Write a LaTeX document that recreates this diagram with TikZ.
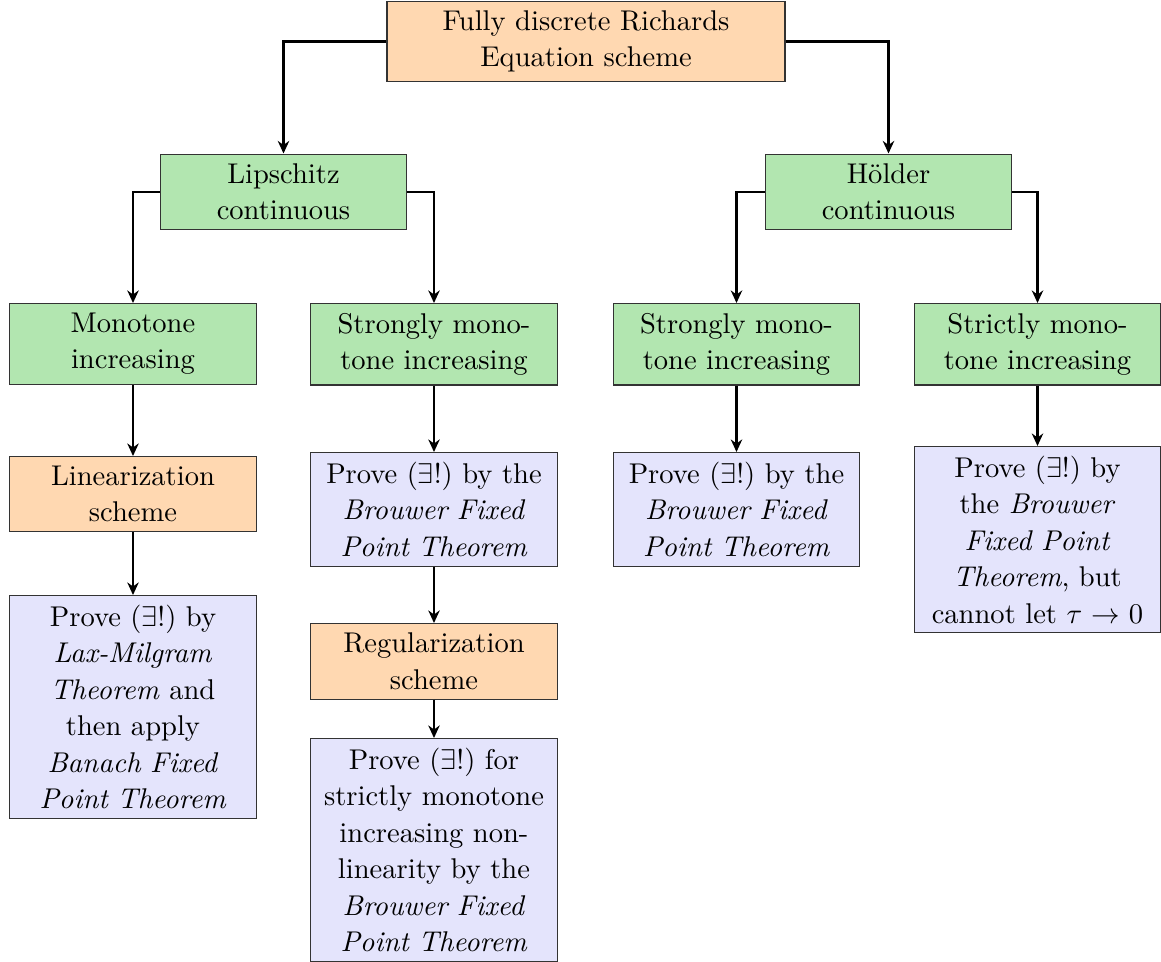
\documentclass[tikz,border=0pt]{standalone}
\usetikzlibrary{arrows.meta}
\definecolor{boxorange}{RGB}{255,216,177}
\definecolor{boxgreen}{RGB}{178,230,176}
\definecolor{boxblue}{RGB}{228,228,252}
\begin{document}
\begin{tikzpicture}[x=0.35026pt,y=-0.35026pt,
  base/.style={draw=black!80, line width=0.4pt, align=center, anchor=north, inner sep=3.33pt, text width=2.8cm, font=\fontsize{10}{12.75}\selectfont},
  orangebox/.style={base, fill=boxorange},
  greenbox/.style={base, fill=boxgreen},
  bluebox/.style={base, fill=boxblue},
  conn/.style={thick, -{Stealth[length=4.4pt,width=4pt]}}]
\useasboundingbox (0,0) rectangle (1161,961);
\node[orangebox, text width=132.7pt] (top) at (586,0.5) {Fully discrete Richards\\Equation scheme};
\node[greenbox] (lip) at (283.5,153.5) {Lipschitz\\continuous};
\node[greenbox] (hol) at (888.5,153.5) {H\"older\\continuous};
\node[greenbox] (c1a) at (133,303) {Monotone\\increasing};
\node[greenbox] (c2a) at (434,303) {Strongly mono-\\tone increasing};
\node[greenbox] (c3a) at (736.5,303) {Strongly mono-\\tone increasing};
\node[greenbox] (c4a) at (1037.5,303) {Strictly mono-\\tone increasing};
\node[orangebox] (c1b) at (133,456) {Linearization\\scheme};
\node[bluebox] (c2b) at (434,452) {Prove $(\exists!)$ by the\\\textit{Brouwer Fixed}\\\textit{Point Theorem}};
\node[bluebox] (c3b) at (736.5,452) {Prove $(\exists!)$ by the\\\textit{Brouwer Fixed}\\\textit{Point Theorem}};
\node[bluebox] (c4b) at (1037.5,446) {Prove $(\exists!)$ by\\the \textit{Brouwer}\\\textit{Fixed Point}\\\textit{Theorem}, but\\cannot let $\tau\to0$};
\node[bluebox] (c1c) at (133,595) {Prove $(\exists!)$ by\\\textit{Lax-Milgram}\\\textit{Theorem} and\\then apply\\\textit{Banach Fixed}\\\textit{Point Theorem}};
\node[orangebox] (c2c) at (434,623) {Regularization\\scheme};
\node[bluebox] (c2d) at (434,738) {Prove $(\exists!)$ for\\strictly monotone\\increasing non-\\linearity by the\\\textit{Brouwer Fixed}\\\textit{Point Theorem}};
\draw[conn] (top.west) -| (lip.north);
\draw[conn] (top.east) -| (hol.north);
\draw[conn] (lip.west) -| (c1a.north);
\draw[conn] (lip.east) -| (c2a.north);
\draw[conn] (hol.west) -| (c3a.north);
\draw[conn] (hol.east) -| (c4a.north);
\draw[conn] (c1a) -- (c1b);
\draw[conn] (c1b) -- (c1c);
\draw[conn] (c2a) -- (c2b);
\draw[conn] (c2b) -- (c2c);
\draw[conn] (c2c) -- (c2d);
\draw[conn] (c3a) -- (c3b);
\draw[conn] (c4a) -- (c4b);
\end{tikzpicture}
\end{document}
